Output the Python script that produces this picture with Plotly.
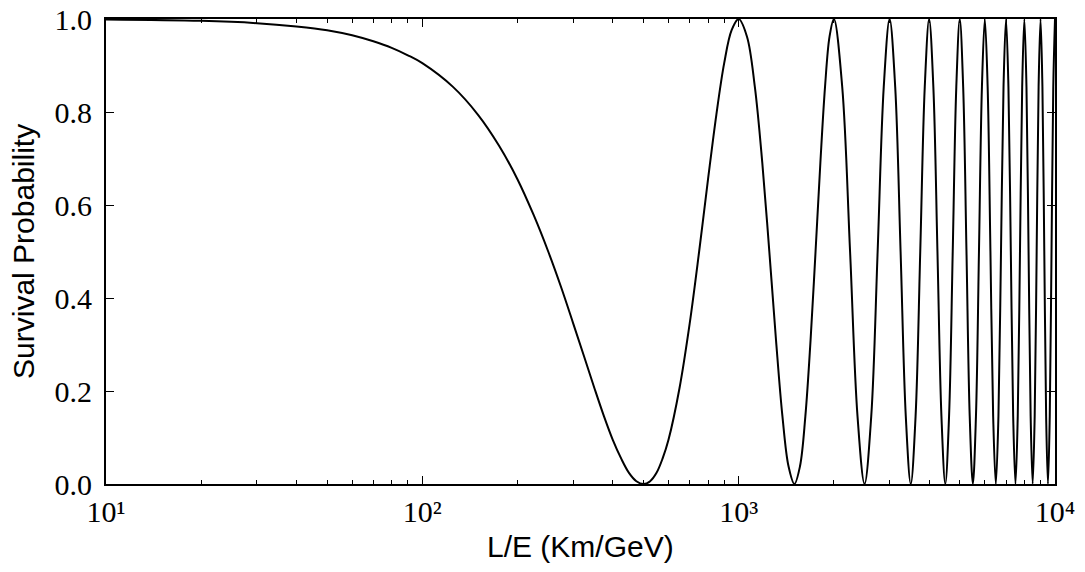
import plotly.graph_objects as go

# Slowly varying part, L/E from 10 to 1000 km/GeV
le_low = [10, 20, 30, 40, 50, 60, 70, 80, 90, 100, 125, 150, 175, 200, 225, 250,
          275, 300, 325, 350, 375, 400, 425, 450, 475, 500, 525, 550, 575, 600,
          650, 700, 750, 800, 850, 900, 950, 1000]
p_low = [0.999, 0.996, 0.991, 0.984, 0.976, 0.965, 0.952, 0.938, 0.922, 0.905,
         0.854, 0.794, 0.727, 0.655, 0.578, 0.500, 0.422, 0.345, 0.273, 0.206,
         0.146, 0.095, 0.055, 0.024, 0.006, 0.000, 0.006, 0.024, 0.055, 0.095,
         0.206, 0.345, 0.500, 0.655, 0.794, 0.905, 0.976, 1.000]

# First fast period, L/E from 1000 to 2000 km/GeV
le_mid = [1062.5, 1125, 1187.5, 1250, 1312.5, 1375, 1437.5, 1500,
          1562.5, 1625, 1687.5, 1750, 1812.5, 1875, 1937.5, 2000]
p_mid = [0.962, 0.854, 0.691, 0.5, 0.309, 0.146, 0.038, 0.0,
         0.038, 0.146, 0.309, 0.5, 0.691, 0.854, 0.962, 1.0]

# Fast oscillations, L/E from 2000 to 10000 km/GeV
le_high = [2125, 2250, 2375, 2500, 2625, 2750, 2875, 3000,
           3125, 3250, 3375, 3500, 3625, 3750, 3875, 4000,
           4125, 4250, 4375, 4500, 4625, 4750, 4875, 5000,
           5125, 5250, 5375, 5500, 5625, 5750, 5875, 6000,
           6125, 6250, 6375, 6500, 6625, 6750, 6875, 7000,
           7125, 7250, 7375, 7500, 7625, 7750, 7875, 8000,
           8125, 8250, 8375, 8500, 8625, 8750, 8875, 9000,
           9125, 9250, 9375, 9500, 9625, 9750, 9875, 10000]
p_high = [0.854, 0.5, 0.146, 0.0, 0.146, 0.5, 0.854, 1.0,
          0.854, 0.5, 0.146, 0.0, 0.146, 0.5, 0.854, 1.0,
          0.854, 0.5, 0.146, 0.0, 0.146, 0.5, 0.854, 1.0,
          0.854, 0.5, 0.146, 0.0, 0.146, 0.5, 0.854, 1.0,
          0.854, 0.5, 0.146, 0.0, 0.146, 0.5, 0.854, 1.0,
          0.854, 0.5, 0.146, 0.0, 0.146, 0.5, 0.854, 1.0,
          0.854, 0.5, 0.146, 0.0, 0.146, 0.5, 0.854, 1.0,
          0.854, 0.5, 0.146, 0.0, 0.146, 0.5, 0.854, 1.0]

x_tickvals = [10, 100, 1000, 10000]
x_ticktext = ["10¹", "10²", "10³", "10⁴"]
x_minor = [20, 30, 40, 50, 60, 70, 80, 90,
           200, 300, 400, 500, 600, 700, 800, 900,
           2000, 3000, 4000, 5000, 6000, 7000, 8000, 9000]
y_tickvals = [0.0, 0.2, 0.4, 0.6, 0.8, 1.0]
y_ticktext = ["0.0", "0.2", "0.4", "0.6", "0.8", "1.0"]
x_title = "L/E (Km/GeV)"
y_title = "Survival Probability"

fig = go.Figure()
fig.add_trace(go.Scatter(
    x=le_low + le_mid + le_high, y=p_low + p_mid + p_high, mode="lines",
    line=dict(color="black", width=2, shape="spline", smoothing=1.0),
    showlegend=False))

serif = "Liberation Serif"
sans = "Liberation Sans"

fig.update_layout(
    width=1085, height=572,
    margin=dict(l=106, r=30, t=19, b=88),
    paper_bgcolor="white", plot_bgcolor="white",
    font=dict(family=serif, size=30, color="black"),
    xaxis=dict(
        type="log", range=[1, 4], automargin=False,
        tickmode="array", tickvals=x_tickvals, ticktext=x_ticktext,
        ticks="inside", ticklen=8, tickwidth=1.2, tickcolor="black",
        ticklabelstandoff=0,
        minor=dict(ticks="inside", ticklen=4, tickwidth=1, tickcolor="black",
                   tickvals=x_minor, showgrid=False),
        showline=True, linecolor="black", linewidth=2, mirror="ticks",
        showgrid=False, zeroline=False,
        tickfont=dict(family=serif, size=30, color="black"),
    ),
    yaxis=dict(
        range=[0, 1], automargin=False,
        tickmode="array", tickvals=y_tickvals, ticktext=y_ticktext,
        ticks="inside", ticklen=8, tickwidth=1.2, tickcolor="black",
        ticklabelstandoff=6,
        showline=True, linecolor="black", linewidth=2, mirror="ticks",
        showgrid=False, zeroline=False,
        tickfont=dict(family=serif, size=30, color="black"),
    ),
    annotations=[
        dict(text=x_title, xref="paper", yref="paper", x=0.5, y=-0.134,
             xanchor="center", yanchor="middle", showarrow=False,
             font=dict(family=sans, size=30, color="black")),
        dict(text=y_title, xref="paper", yref="paper", x=-0.087, y=0.5,
             xanchor="center", yanchor="middle", showarrow=False, textangle=-90,
             font=dict(family=sans, size=30, color="black")),
    ],
)

fig.write_html("out.html")
